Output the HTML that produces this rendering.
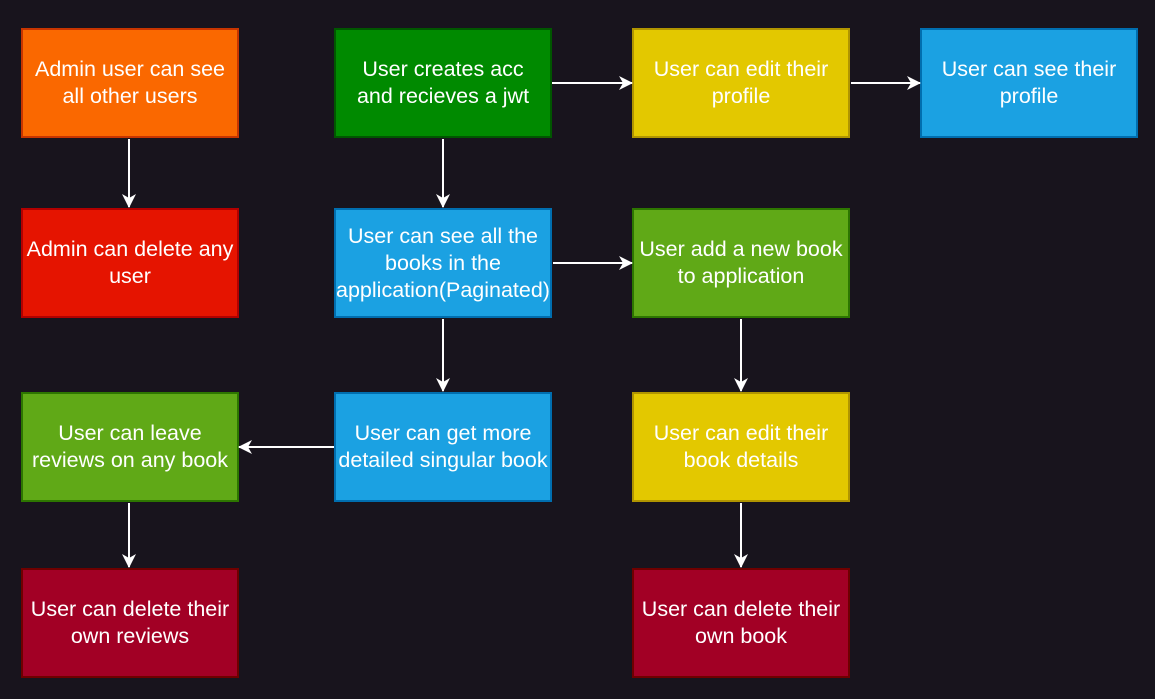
<!DOCTYPE html>
<html><head><meta charset="utf-8"><style>
html,body{margin:0;padding:0;background:#18141d;width:1155px;height:699px;overflow:hidden}
.b{position:absolute;box-sizing:border-box;display:flex;align-items:center;justify-content:center;text-align:center;color:#fff;font-family:"Liberation Sans",sans-serif;font-size:21.5px;line-height:27px;border:2px solid;width:218px;height:110px;padding:0;white-space:nowrap}
svg{position:absolute;left:0;top:0}
</style></head><body>
<div class="b" style="left:21px;top:28px;background:#fa6800;border-color:#c73500">Admin user can see<br>all other users</div>
<div class="b" style="left:334px;top:28px;background:#008a00;border-color:#005700">User creates acc<br>and recieves a jwt</div>
<div class="b" style="left:632px;top:28px;background:#e3c800;border-color:#b09500">User can edit their<br>profile</div>
<div class="b" style="left:920px;top:28px;background:#1ba1e2;border-color:#006eaf">User can see their<br>profile</div>
<div class="b" style="left:21px;top:208px;background:#e51400;border-color:#b20000">Admin can delete any<br>user</div>
<div class="b" style="left:334px;top:208px;background:#1ba1e2;border-color:#006eaf">User can see all the<br>books in the<br>application(Paginated)</div>
<div class="b" style="left:632px;top:208px;background:#60a917;border-color:#2d7600">User add a new book<br>to application</div>
<div class="b" style="left:21px;top:392px;background:#60a917;border-color:#2d7600">User can leave<br>reviews on any book</div>
<div class="b" style="left:334px;top:392px;background:#1ba1e2;border-color:#006eaf">User can get more<br>detailed singular book</div>
<div class="b" style="left:632px;top:392px;background:#e3c800;border-color:#b09500">User can edit their<br>book details</div>
<div class="b" style="left:21px;top:568px;background:#a20025;border-color:#6f0000">User can delete their<br>own reviews</div>
<div class="b" style="left:632px;top:568px;background:#a20025;border-color:#6f0000">User can delete their<br>own book</div>
<svg width="1155" height="699">
<defs><marker id="m" viewBox="0 0 14 14" markerWidth="14" markerHeight="14" refX="13" refY="7" orient="auto" markerUnits="userSpaceOnUse"><path d="M0,0 L14,7 L0,14 L4,7 Z" fill="#fff"/></marker></defs>
<g stroke="#fff" stroke-width="2" fill="none">
<line x1="552" y1="83" x2="632" y2="83" marker-end="url(#m)"/>
<line x1="851" y1="83" x2="920" y2="83" marker-end="url(#m)"/>
<line x1="129" y1="139" x2="129" y2="207" marker-end="url(#m)"/>
<line x1="443" y1="139" x2="443" y2="207" marker-end="url(#m)"/>
<line x1="553" y1="263" x2="632" y2="263" marker-end="url(#m)"/>
<line x1="443" y1="319" x2="443" y2="391" marker-end="url(#m)"/>
<line x1="741" y1="319" x2="741" y2="391" marker-end="url(#m)"/>
<line x1="334" y1="447" x2="239" y2="447" marker-end="url(#m)"/>
<line x1="129" y1="503" x2="129" y2="567" marker-end="url(#m)"/>
<line x1="741" y1="503" x2="741" y2="567" marker-end="url(#m)"/>
</g></svg>
</body></html>
